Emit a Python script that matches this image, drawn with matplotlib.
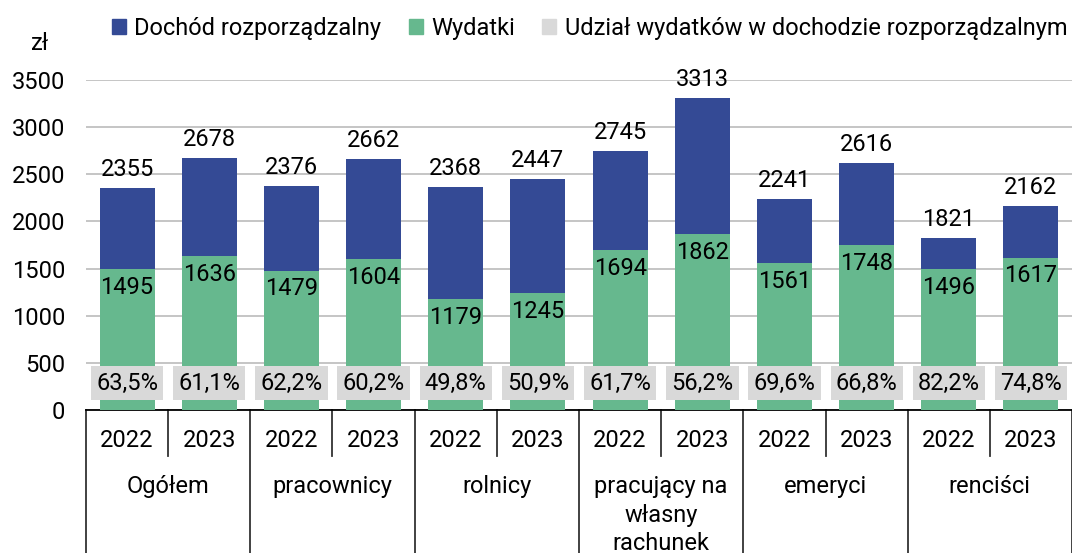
import matplotlib.pyplot as plt
import matplotlib.transforms as mtransforms
from matplotlib.patches import Patch

plt.rcParams['font.family'] = ['Roboto', 'DejaVu Sans']
plt.rcParams['font.size'] = 17

groups = ['Ogółem', 'pracownicy', 'rolnicy', 'pracujący na\nwłasny\nrachunek', 'emeryci', 'renciści']
years = ['2022', '2023']
income = [2355, 2678, 2376, 2662, 2368, 2447, 2745, 3313, 2241, 2616, 1821, 2162]
expenses = [1495, 1636, 1479, 1604, 1179, 1245, 1694, 1862, 1561, 1748, 1496, 1617]
share = ['63,5%', '61,1%', '62,2%', '60,2%', '49,8%', '50,9%',
         '61,7%', '56,2%', '69,6%', '66,8%', '82,2%', '74,8%']

blue = '#344a95'
green = '#66b88e'
grey = '#d9d9d9'

fig = plt.figure(figsize=(10.72, 5.53), dpi=100)
ax = fig.add_axes([86 / 1072, 1 - 410 / 553, 1 - 86 / 1072, 330 / 553])

x = list(range(len(income)))
w = 0.67
ax.bar(x, income, width=w, color=blue, zorder=2)
ax.bar(x, expenses, width=w, color=green, zorder=3)

for i in x:
    ax.annotate(str(income[i]), (i, income[i]), xytext=(0, 5), textcoords='offset points',
                ha='center', va='bottom', annotation_clip=False)
    ax.annotate(str(expenses[i]), (i, expenses[i]), xytext=(0, -5), textcoords='offset points',
                ha='center', va='top', zorder=5)
    ax.text(i, 285, share[i], ha='center', va='center', zorder=5,
            bbox=dict(boxstyle='square,pad=0.22', fc=grey, ec='none'))

ax.set_xlim(-0.5, len(income) - 0.5)
ax.set_ylim(0, 3500)
ax.set_yticks(range(0, 3501, 500))
ax.yaxis.grid(True, color='#c0c0c0', lw=1.3, zorder=0)
ax.set_axisbelow(True)
ax.tick_params(axis='y', length=0, pad=15)
ax.tick_params(axis='x', length=0, labelbottom=False)
for s in ['left', 'right', 'top']:
    ax.spines[s].set_visible(False)
ax.spines['bottom'].set_color('black')
ax.spines['bottom'].set_linewidth(1.3)

# multi-level category axis
tr = mtransforms.blended_transform_factory(ax.transData, ax.transAxes)
for i in x:
    ax.text(i, -0.091, years[i % 2], transform=tr, ha='center', va='center')
for k in range(len(groups) + 1):
    xs = 2 * k - 0.5
    ax.plot([xs, xs], [0, -0.45], transform=tr, color='#333333', lw=1.3, clip_on=False)
for k in range(len(groups)):
    xs = 2 * k + 0.5
    ax.plot([xs, xs], [0, -0.139], transform=tr, color='#333333', lw=1.3, clip_on=False)
    ax.text(2 * k + 0.5, -0.198, groups[k], transform=tr, ha='center', va='top',
            linespacing=1.3)

fig.text(40 / 1072, 1 - 44 / 553, 'zł', ha='center', va='center')

handles = [Patch(color=blue), Patch(color=green), Patch(color=grey)]
labels = ['Dochód rozporządzalny', 'Wydatki', 'Udział wydatków w dochodzie rozporządzalnym']
fig.legend(handles, labels, loc='upper center', bbox_to_anchor=(0.55, 1.008), ncol=3,
           frameon=False, handlelength=0.6, handleheight=0.6, handletextpad=0.35,
           columnspacing=1.15)

fig.savefig('out.png', dpi=100)
